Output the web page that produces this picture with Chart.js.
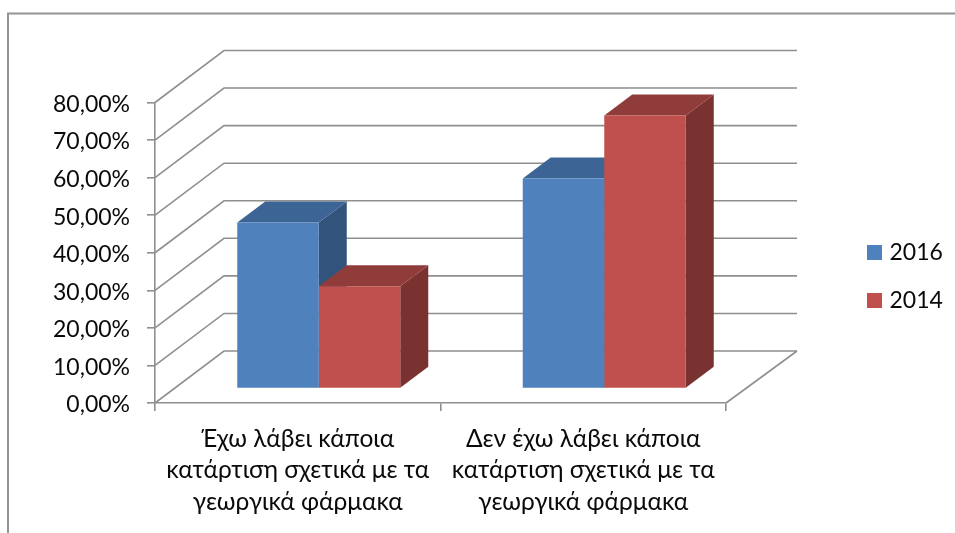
<!DOCTYPE html>
<html>
<head>
<meta charset="utf-8">
<style>html,body{margin:0;padding:0;background:#fff}canvas{display:block}</style>
<script src="https://cdn.jsdelivr.net/npm/chart.js@4"></script>
</head>
<body>
<div style="width:955px;height:533px;position:relative"><canvas id="c" width="955" height="533"></canvas></div>
<script>
const categories = [
  ["Έχω λάβει κάποια", "κατάρτιση σχετικά με τα", "γεωργικά φάρμακα"],
  ["Δεν έχω λάβει κάποια", "κατάρτιση σχετικά με τα", "γεωργικά φάρμακα"]
];
const seriesNames = ["2016", "2014"];
const values2016 = [44.2, 55.9];
const values2014 = [27.2, 72.7];
const fontFamily = "Lato, 'Open Sans', sans-serif";
const GRID = '#8f8f8f';
const WALL = {dx: 69, dxRight: 71, dy: 52};
const BAR_SHIFT = {dx: 21, dy: 14.5};
const BAR_DEPTH = {dx: 28, dy: 21};
const faces = [
  {top: '#3c6494', side: '#31537c'},
  {top: '#8f3c3a', side: '#7a3230'}
];
function poly(ctx, pts, fill) {
  ctx.beginPath();
  pts.forEach((p, i) => i ? ctx.lineTo(p[0], p[1]) : ctx.moveTo(p[0], p[1]));
  ctx.closePath();
  ctx.fillStyle = fill;
  ctx.fill();
}
const scene3d = {
  id: 'scene3d',
  beforeDraw(chart) {
    const ctx = chart.ctx;
    ctx.save();
    ctx.strokeStyle = '#949494';
    ctx.lineWidth = 2;
    ctx.beginPath();
    ctx.moveTo(8, 533);
    ctx.lineTo(8, 13.5);
    ctx.lineTo(955, 13.5);
    ctx.stroke();
    ctx.restore();
  },
  beforeDatasetsDraw(chart) {
    const {ctx, scales: {x, y}} = chart;
    ctx.save();
    ctx.strokeStyle = GRID;
    ctx.lineWidth = 1.6;
    y.ticks.forEach(t => {
      const py = y.getPixelForValue(t.value);
      ctx.beginPath();
      ctx.moveTo(x.left, py);
      ctx.lineTo(x.left + WALL.dx, py - WALL.dy);
      ctx.lineTo(x.right + WALL.dxRight, py - WALL.dy);
      ctx.stroke();
    });
    const y0 = y.getPixelForValue(0);
    ctx.beginPath();
    ctx.moveTo(x.right + WALL.dxRight, y0 - WALL.dy);
    ctx.lineTo(x.right, y0);
    ctx.stroke();
    ctx.restore();

    // Side and top faces, first series behind the second
    ctx.save();
    ctx.translate(BAR_SHIFT.dx, -BAR_SHIFT.dy);
    chart.data.datasets.forEach((ds, i) => {
      const c = faces[i];
      chart.getDatasetMeta(i).data.forEach(b => {
        const l = b.x - b.width / 2, r = b.x + b.width / 2, t = b.y, bs = b.base;
        const d = BAR_DEPTH;
        poly(ctx, [[r, t], [r + d.dx, t - d.dy], [r + d.dx, bs - d.dy], [r, bs]], c.side);
        poly(ctx, [[l, t], [r, t], [r + d.dx, t - d.dy], [l + d.dx, t - d.dy]], c.top);
      });
    });
    ctx.restore();
  },
  beforeDatasetDraw(chart) {
    chart.ctx.save();
    chart.ctx.translate(BAR_SHIFT.dx, -BAR_SHIFT.dy);
  },
  afterDatasetDraw(chart) {
    chart.ctx.restore();
  },
  afterLayout(chart) {
    const lg = chart.legend;
    const p = lg.options.labels.padding;
    const h = lg.height;
    lg.left = 871 - p;
    lg.right = lg.left + lg.width;
    lg.top = 276.5 - h / 2;
    lg.bottom = lg.top + h;
  }
};
new Chart(document.getElementById('c'), {
  type: 'bar',
  data: {
    labels: categories,
    datasets: [
      {label: seriesNames[0], data: values2016, backgroundColor: '#4f81bd', clip: false},
      {label: seriesNames[1], data: values2014, backgroundColor: '#c0504d', clip: false}
    ]
  },
  options: {
    responsive: false,
    animation: false,
    devicePixelRatio: 1,
    layout: {padding: {left: 0, top: 102.5, right: 229, bottom: 0}},
    datasets: {bar: {categoryPercentage: 0.571, barPercentage: 1}},
    plugins: {
      title: {display: false},
      tooltip: {enabled: false},
      legend: {
        position: 'chartArea',
        labels: {
          boxWidth: 7, boxHeight: 7, padding: 25,
          color: '#0a0a0a',
          font: {family: fontFamily, size: 23},
          generateLabels(chart) {
            return Chart.defaults.plugins.legend.labels.generateLabels(chart).map(it =>
              Object.assign(it, {strokeStyle: it.fillStyle, lineWidth: 8, lineJoin: 'miter'}));
          }
        }
      }
    },
    scales: {
      x: {
        afterFit(s) { s.height = 130; },
        border: {color: GRID, width: 1.6},
        grid: {display: true, drawOnChartArea: false, drawTicks: true, tickLength: 8, color: GRID, lineWidth: 1.6},
        ticks: {
          autoSkip: false, maxRotation: 0, minRotation: 0, padding: 12,
          color: '#0a0a0a',
          font: {family: fontFamily, size: 24.5, lineHeight: 1.286}
        }
      },
      y: {
        min: 0, max: 80,
        afterFit(s) { s.width = 155; },
        border: {color: GRID, width: 1.6},
        grid: {display: true, drawOnChartArea: false, drawTicks: true, tickLength: 8, color: GRID, lineWidth: 1.6},
        ticks: {
          stepSize: 10, padding: 17, labelOffset: 2,
          color: '#0a0a0a',
          font: {family: fontFamily, size: 23},
          callback: v => v.toFixed(2).replace('.', ',') + '%'
        }
      }
    }
  },
  plugins: [scene3d]
});
</script>
</body>
</html>
